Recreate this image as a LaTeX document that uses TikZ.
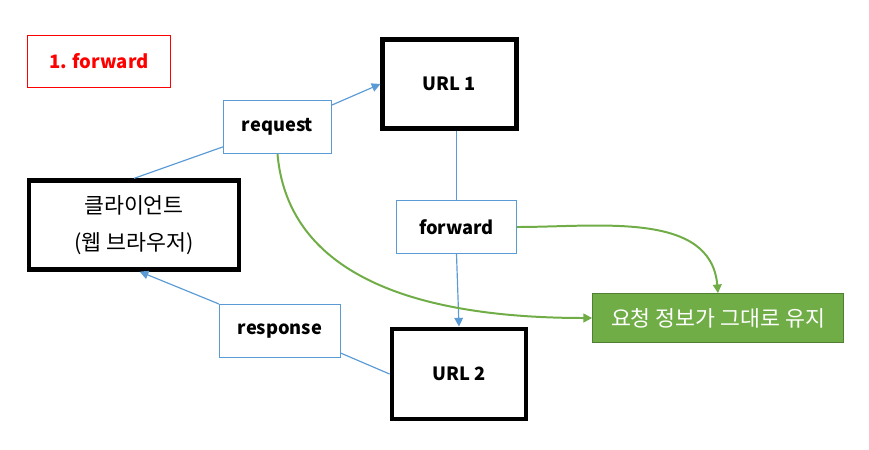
\documentclass[tikz,border=0pt]{standalone}
\usepackage{fontspec}
\setmainfont{Noto Sans CJK KR}
\usetikzlibrary{arrows.meta,positioning,calc}
\definecolor{lineblue}{RGB}{91,155,213}
\definecolor{keepgreen}{RGB}{112,173,71}
\definecolor{keepedge}{RGB}{80,126,50}
\newcommand{\krtext}{\fontsize{18.5}{31}\selectfont}
\begin{document}
\begin{tikzpicture}[>={Triangle[length=2.6mm,width=2.6mm]},x=1.000cm,y=1.000cm,
 font=\fontsize{15.6}{31}\selectfont,
 page/.style={draw=black,line width=4.2pt,minimum width=4.0cm,minimum height=2.65cm,font=\fontsize{15.6}{31}\selectfont\bfseries},
 msg/.style={draw=lineblue,line width=0.9pt,minimum width=3.24cm,minimum height=1.59cm,font=\fontsize{15.6}{31}\selectfont\bfseries},
 link/.style={lineblue,line width=1pt},
 keep/.style={keepgreen,line width=1.7pt}]
\useasboundingbox (0,0) rectangle (26.070,-13.470);
\node[draw=red,line width=0.9pt,text=red,minimum width=4.29cm,minimum height=1.56cm,font=\fontsize{15.8}{31}\selectfont\bfseries] (title) at (2.970,-1.845) {1. forward};
\node[page] (url1) at (13.485,-2.520) {URL 1};
\node[msg] (request) at (8.325,-3.810) {request};
\node[page,minimum width=6.30cm,align=center,font=\krtext] (client) at (4.020,-6.750) {클라이언트\\(웹 브라우저)};
\node[msg,minimum width=3.60cm] (fwd) at (13.695,-6.810) {forward};
\node[msg,minimum width=3.63cm] (response) at (8.400,-9.930) {response};
\node[page,minimum width=4.02cm,minimum height=2.70cm] (url2) at (13.770,-11.220) {URL 2};
\node[fill=keepgreen,draw=keepedge,line width=0.6pt,text=white,minimum width=7.53cm,minimum height=1.47cm,font=\krtext] (kept) at (21.540,-9.540) {요청 정보가 그대로 유지};
\draw[link] (client.north) -- (request.200);
\draw[link,->] (request.22) -- (url1.west);
\draw[link] (url1.south -| fwd.north) -- (fwd.north);
\draw[link,->] (fwd.south) -- (url2.north);
\draw[link] (url2.west) -- (response.-20);
\draw[link,->] (response.north west) -- (client.-83);
\draw[keep,->] (request.south) to[out=-85,in=180] (kept.west);
\draw[keep,->] (fwd.east) to[out=0,in=95] (kept.north);
\end{tikzpicture}
\end{document}
